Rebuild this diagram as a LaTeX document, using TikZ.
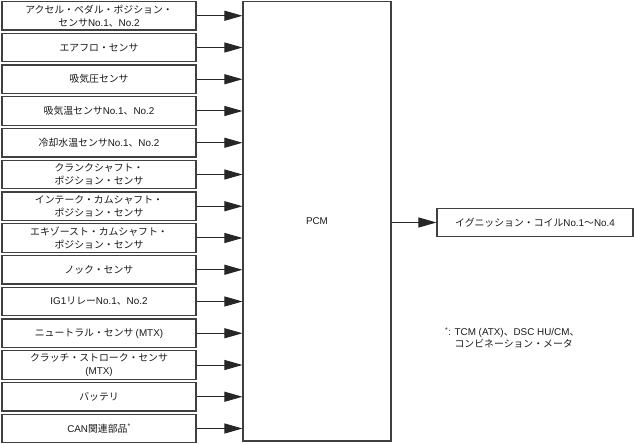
\documentclass[tikz,border=0pt]{standalone}
\usepackage{fontspec}
\setmainfont{Noto Sans CJK JP}
\newfontfamily\latfont{Liberation Sans}
\newcommand\latn[1]{{\latfont #1}}
\usetikzlibrary{arrows.meta}
\begin{document}
\begin{tikzpicture}[x=1bp,y=-1bp,
  inbox/.style={draw=black!75,line width=1.1bp,fill=white,minimum width=194bp,minimum height=28.5bp,inner sep=0pt,align=center,font=\fontsize{9.9}{12.8}\selectfont,text=black!90},
  pcmbox/.style={draw=black!75,line width=1.1bp,minimum width=148bp,minimum height=439.5bp,inner sep=0pt,font=\fontsize{9.9}{12.8}\selectfont,text=black!90},
  outbox/.style={draw=black!75,line width=1.1bp,minimum width=196bp,minimum height=27.5bp,inner sep=0pt,font=\fontsize{9.9}{12.8}\selectfont,text=black!90},
  note/.style={inner sep=0pt,anchor=west,font=\fontsize{9.9}{11.5}\selectfont,text=black!90},
  conn/.style={draw=black!85,line width=1bp,-{Triangle[length=18bp,width=10bp]}}]
\useasboundingbox (0,0) rectangle (634,445);
\node[inbox] (in1)  at (99,15.75)  {アクセル・ペダル・ポジション・\\センサ\latn{No.1}、\latn{No.2}};
\node[inbox] (in2)  at (99,47.5)   {エアフロ・センサ};
\node[inbox] (in3)  at (99,79.25)  {吸気圧センサ};
\node[inbox] (in4)  at (99,111)    {吸気温センサ\latn{No.1}、\latn{No.2}};
\node[inbox] (in5)  at (99,142.75) {冷却水温センサ\latn{No.1}、\latn{No.2}};
\node[inbox] (in6)  at (99,174.5)  {クランクシャフト・\\ポジション・センサ};
\node[inbox] (in7)  at (99,206.25) {インテーク・カムシャフト・\\ポジション・センサ};
\node[inbox] (in8)  at (99,238)    {エキゾースト・カムシャフト・\\ポジション・センサ};
\node[inbox] (in9)  at (99,269.75) {ノック・センサ};
\node[inbox] (in10) at (99,301.5)  {\latn{IG1}リレー\latn{No.1}、\latn{No.2}};
\node[inbox] (in11) at (99,333.25) {ニュートラル・センサ \latn{(MTX)}};
\node[inbox] (in12) at (99,365)    {クラッチ・ストローク・センサ\\\latn{(MTX)}};
\node[inbox] (in13) at (99,396.75) {バッテリ};
\node[inbox] (in14) at (99,428.5)  {\latn{CAN}関連部品\textsuperscript{\latn{*}}};
\node[pcmbox] (pcm) at (317,221.25) {\latn{PCM}};
\node[outbox] (out) at (535,222.5) {イグニッション・コイル\latn{No.1}〜\latn{No.4}};
\node[note] (fn) at (445,339) {\begin{tabular}{@{}l@{}l@{}}\textsuperscript{\latn{*}}\latn{:\kern3.5bp}&\latn{TCM (ATX)}、\latn{DSC HU/CM}、\\&コンビネーション・メータ\end{tabular}};
\foreach \i in {1,...,14}{
  \draw[conn] (in\i.east) -- (in\i.east -| pcm.west);
}
\draw[conn] (pcm.east |- out.west) -- (out.west);
\end{tikzpicture}
\end{document}
